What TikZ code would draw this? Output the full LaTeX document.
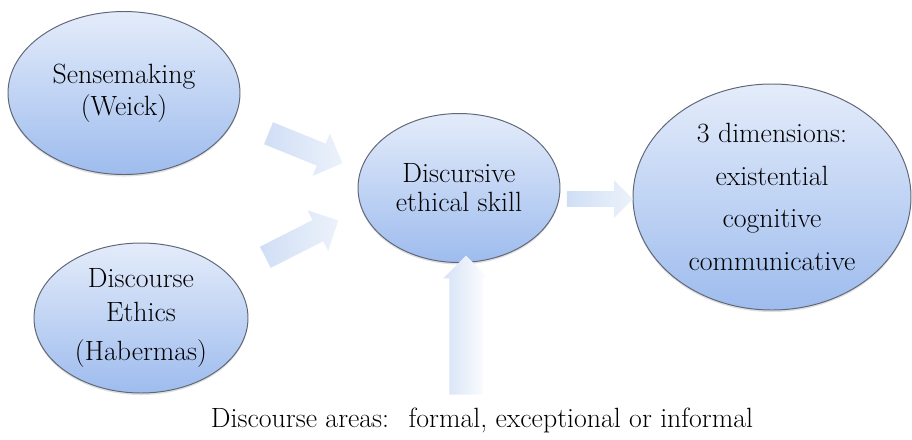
\documentclass[tikz,border=0pt]{standalone}
\usetikzlibrary{shapes.geometric,shapes.arrows,shadows,calc}
\definecolor{ovaltop}{RGB}{228,236,250}
\definecolor{ovalbottom}{RGB}{158,188,238}
\definecolor{ovalline}{RGB}{96,104,120}
\definecolor{arrowblue}{RGB}{208,222,245}
\definecolor{arrowpale}{RGB}{236,242,251}
\definecolor{barblue}{RGB}{214,226,246}
\definecolor{barpale}{RGB}{238,243,252}
\begin{document}
\begin{tikzpicture}
  [x=0.25mm,y=-0.25mm,
   every node/.style={text=black},
   oval/.style={ellipse,draw=ovalline,line width=0.7pt,top color=ovaltop,
     bottom color=ovalbottom,align=center,inner sep=0pt,
     drop shadow={opacity=0.25,shadow xshift=0pt,shadow yshift=-0.5mm}},
   bigarrow/.style={single arrow,inner xsep=0pt,minimum width=1pt,
     left color=arrowblue,right color=arrowpale,allow upside down}]
  \useasboundingbox (0,0) rectangle (912,439);
  \node[oval,minimum width=58mm,minimum height=40.75mm,
    font=\fontsize{19.8}{22.8}\selectfont] (sense) at (124,93) {Sensemaking\\(Weick)};
  \node[oval,minimum width=53.5mm,minimum height=37.5mm,
    font=\fontsize{19.8}{24.2}\selectfont] (ethics) at (141,318) {\rule{0pt}{6pt}Discourse\\Ethics\\[3.5pt](Habermas)};
  \node[oval,minimum width=50.5mm,minimum height=37.25mm,
    font=\fontsize{19.8}{20.6}\selectfont] (skill) at (459,188) {Discursive\\ethical skill};
  \node[oval,minimum width=69.5mm,minimum height=56.5mm,
    font=\fontsize{19.8}{30.2}\selectfont] (dims) at (772,197) {3 dimensions:\\existential\\cognitive\\communicative};
  \node[font=\fontsize{19.8}{23}\selectfont] (areas) at (482,420) {Discourse areas:~ formal, exceptional or informal};

  % ends of the block arrows
  \coordinate (t1) at (263,131);
  \coordinate (h1) at (337,161);
  \coordinate (t2) at (260,260);
  \coordinate (h2) at (333,223);
  \coordinate (t3) at (563,199);
  \coordinate (h3) at (629,199);
  \coordinate (t4) at (466,403);
  \coordinate (h4) at (466,264);

  \foreach \from/\to/\shaft in {t1/h1/2.9mm,t2/h2/2.9mm,t3/h3/1.9mm}
    \path let \p1=($(\to)-(\from)$), \n1={veclen(\x1,\y1)} in
      (\from) -- (\to) node[bigarrow,midway,sloped,inner ysep=\shaft,
        single arrow head extend=2.75mm,minimum height=\n1] {};
  \path let \p1=($(h4)-(t4)$), \n1={veclen(\x1,\y1)} in
    (t4) -- (h4) node[bigarrow,midway,sloped,inner ysep=4.1mm,
      single arrow head extend=1.5mm,minimum height=\n1,
      left color=barblue,middle color=barpale,right color=white] {};
\end{tikzpicture}
\end{document}
